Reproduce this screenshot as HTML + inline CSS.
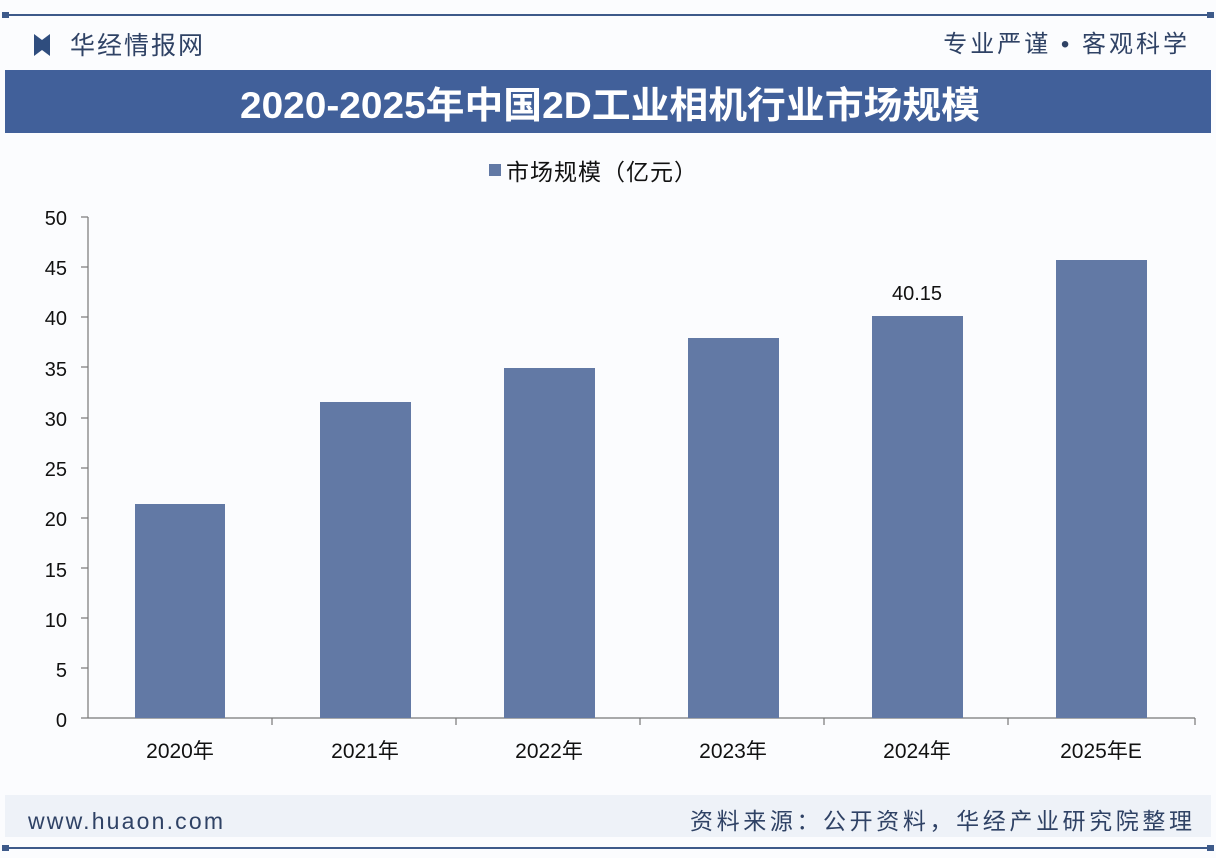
<!DOCTYPE html>
<html><head><meta charset="utf-8"><style>
body{margin:0;width:1216px;height:858px;background:#fff;overflow:hidden;font-family:"Liberation Sans","Noto Sans CJK SC",sans-serif;}
</style></head><body>
<svg width="1216" height="858" xmlns="http://www.w3.org/2000/svg" font-family="Liberation Sans, Noto Sans CJK SC, sans-serif">
<rect width="1216" height="858" fill="#fbfcfe"/>
<line x1="4" y1="15" x2="1212" y2="15" stroke="#3d5a8a" stroke-width="2"/>
<rect x="2" y="12" width="7" height="6" fill="#3d5a8a"/><rect x="1207" y="12" width="7" height="6" fill="#3d5a8a"/>
<polygon points="34,34 42,40 42,50 34,56" fill="#2f4d7e"/><polygon points="50,34 42,40 42,50 50,56" fill="#2f4d7e"/>
<text x="70" y="54" font-size="25" fill="#2f4265" letter-spacing="2">华经情报网</text>
<text x="1190" y="52" font-size="24" fill="#2f4265" text-anchor="end" letter-spacing="3">专业严谨 • 客观科学</text>
<rect x="5" y="70" width="1206" height="63" fill="#41609a"/>
<text x="610" y="118" font-size="37" font-weight="bold" fill="#fff" text-anchor="middle" textLength="740" lengthAdjust="spacingAndGlyphs">2020-2025年中国2D工业相机行业市场规模</text>
<rect x="489" y="164" width="12" height="12" fill="#6279a5"/>
<text x="506" y="180" font-size="23" fill="#111" letter-spacing="1">市场规模（亿元）</text>
<g font-size="20" fill="#111" text-anchor="end">
<text x="67" y="225">50</text><text x="67" y="275">45</text><text x="67" y="325">40</text><text x="67" y="376">35</text><text x="67" y="426">30</text><text x="67" y="476">25</text><text x="67" y="526">20</text><text x="67" y="577">15</text><text x="67" y="627">10</text><text x="67" y="677">5</text><text x="67" y="727">0</text>
</g>
<g stroke="#777" stroke-width="1.2">
<line x1="88" y1="217" x2="88" y2="718"/><line x1="88" y1="718" x2="1195" y2="718"/>
<line x1="81" y1="217" x2="88" y2="217"/><line x1="81" y1="267" x2="88" y2="267"/><line x1="81" y1="317" x2="88" y2="317"/><line x1="81" y1="367" x2="88" y2="367"/><line x1="81" y1="418" x2="88" y2="418"/><line x1="81" y1="468" x2="88" y2="468"/><line x1="81" y1="518" x2="88" y2="518"/><line x1="81" y1="568" x2="88" y2="568"/><line x1="81" y1="618" x2="88" y2="618"/><line x1="81" y1="668" x2="88" y2="668"/><line x1="81" y1="718" x2="88" y2="718"/>
<line x1="272" y1="718" x2="272" y2="725"/><line x1="456" y1="718" x2="456" y2="725"/><line x1="640" y1="718" x2="640" y2="725"/><line x1="824" y1="718" x2="824" y2="725"/><line x1="1008" y1="718" x2="1008" y2="725"/><line x1="1195" y1="718" x2="1195" y2="725"/>
</g>
<g fill="#6279a5">
<rect x="135" y="504" width="90" height="214"/>
<rect x="320" y="402" width="91" height="316"/>
<rect x="504" y="368" width="91" height="350"/>
<rect x="688" y="338" width="91" height="380"/>
<rect x="872" y="316" width="91" height="402"/>
<rect x="1056" y="260" width="91" height="458"/>
</g>
<text x="917" y="300" font-size="20" fill="#111" text-anchor="middle">40.15</text>
<g font-size="21" fill="#111" text-anchor="middle">
<text x="180" y="758">2020年</text><text x="365" y="758">2021年</text><text x="549" y="758">2022年</text><text x="733" y="758">2023年</text><text x="917" y="758">2024年</text><text x="1101" y="758">2025年E</text>
</g>
<rect x="5" y="795" width="1206" height="42" fill="#eef2f8"/>
<text x="28" y="829" font-size="23" fill="#2f4265" textLength="195" lengthAdjust="spacing">www.huaon.com</text>
<text x="690" y="829" font-size="23" fill="#2f4265" textLength="502" lengthAdjust="spacing">资料来源：公开资料，华经产业研究院整理</text>
<line x1="4" y1="848" x2="1212" y2="848" stroke="#3d5a8a" stroke-width="2"/>
<rect x="2" y="845" width="7" height="6" fill="#3d5a8a"/><rect x="1207" y="845" width="7" height="6" fill="#3d5a8a"/>
</svg>
</body></html>
